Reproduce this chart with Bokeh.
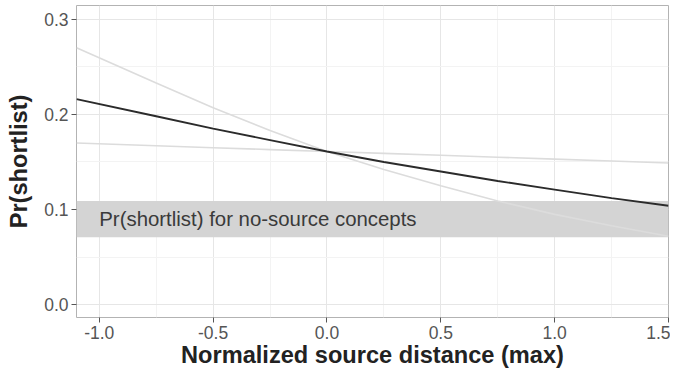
from bokeh.plotting import figure
from bokeh.models import FixedTicker, PrintfTickFormatter, Range1d, BoxAnnotation, Label
from bokeh.embed import file_html
from bokeh.resources import INLINE

# Data
x_vals = [-1.1, -0.75, -0.5, -0.25, 0.0, 0.25, 0.5, 0.75, 1.0, 1.25, 1.5]
y_main = [0.216, 0.198, 0.185, 0.173, 0.161, 0.150, 0.140, 0.130, 0.121, 0.112, 0.104]
y_steep = [0.270, 0.233, 0.207, 0.183, 0.161, 0.142, 0.125, 0.109, 0.095, 0.083, 0.072]
y_flat = [0.170, 0.167, 0.165, 0.163, 0.161, 0.159, 0.157, 0.155, 0.153, 0.151, 0.149]

band_low = 0.071
band_high = 0.109
band_label = "Pr(shortlist) for no-source concepts"

x_ticks = [-1.0, -0.5, 0.0, 0.5, 1.0, 1.5]
x_minor = [-0.75, -0.25, 0.25, 0.75, 1.25]
y_ticks = [0.0, 0.1, 0.2, 0.3]
y_minor = [0.05, 0.15, 0.25]

FONT = "Liberation Sans"

p = figure(width=670, height=370, output_backend="svg", toolbar_location=None,
           x_range=Range1d(-1.1, 1.5), y_range=Range1d(-0.0133, 0.3143),
           min_border_left=76, min_border_right=2, min_border_top=5, min_border_bottom=50)
p.background_fill_color = "white"
p.border_fill_color = "white"
p.outline_line_color = "#b3b3b3"
p.outline_line_width = 1

# band
p.add_layout(BoxAnnotation(bottom=band_low, top=band_high, fill_color="#d4d4d4",
                           fill_alpha=1.0, line_color=None, level="underlay"))

p.line(x_vals, y_steep, line_color="#dcdcdc", line_width=1.6)
p.line(x_vals, y_flat, line_color="#dcdcdc", line_width=1.6)
p.line(x_vals, y_main, line_color="#2b2b2b", line_width=1.9)

p.add_layout(Label(x=-1.0, y=(band_low + band_high) / 2, text=band_label,
                   text_font=FONT, text_font_size="20.4px", text_color="#3a3a3a",
                   text_baseline="middle", text_align="left"))

for ax, ticks, minor in ((p.xaxis[0], x_ticks, x_minor), (p.yaxis[0], y_ticks, y_minor)):
    ax.ticker = FixedTicker(ticks=ticks, minor_ticks=minor)
    ax.formatter = PrintfTickFormatter(format="%.1f")
    ax.axis_line_color = None
    ax.major_tick_line_color = "#555555"
    ax.major_tick_in = 0
    ax.major_tick_out = 5
    ax.minor_tick_out = 0
    ax.minor_tick_in = 0
    ax.major_label_text_font = FONT
    ax.major_label_text_font_size = "17.5px"
    ax.major_label_text_color = "#555555"
    ax.axis_label_text_font = FONT
    ax.axis_label_text_font_style = "bold"
    ax.axis_label_text_font_size = "23.6px"
    ax.axis_label_text_color = "#222222"

p.xaxis.axis_label = "Normalized source distance (max)"
p.yaxis.axis_label = "Pr(shortlist)"
p.xaxis.major_label_standoff = 3
p.xaxis.axis_label_standoff = 0
p.yaxis.major_label_standoff = 3
p.yaxis.axis_label_standoff = 9

for g in (p.xgrid[0], p.ygrid[0]):
    g.grid_line_color = "#e6e6e6"
    g.grid_line_width = 1
    g.minor_grid_line_color = "#f3f3f3"
    g.minor_grid_line_width = 1

open("out.html", "w").write(file_html(p, INLINE))
